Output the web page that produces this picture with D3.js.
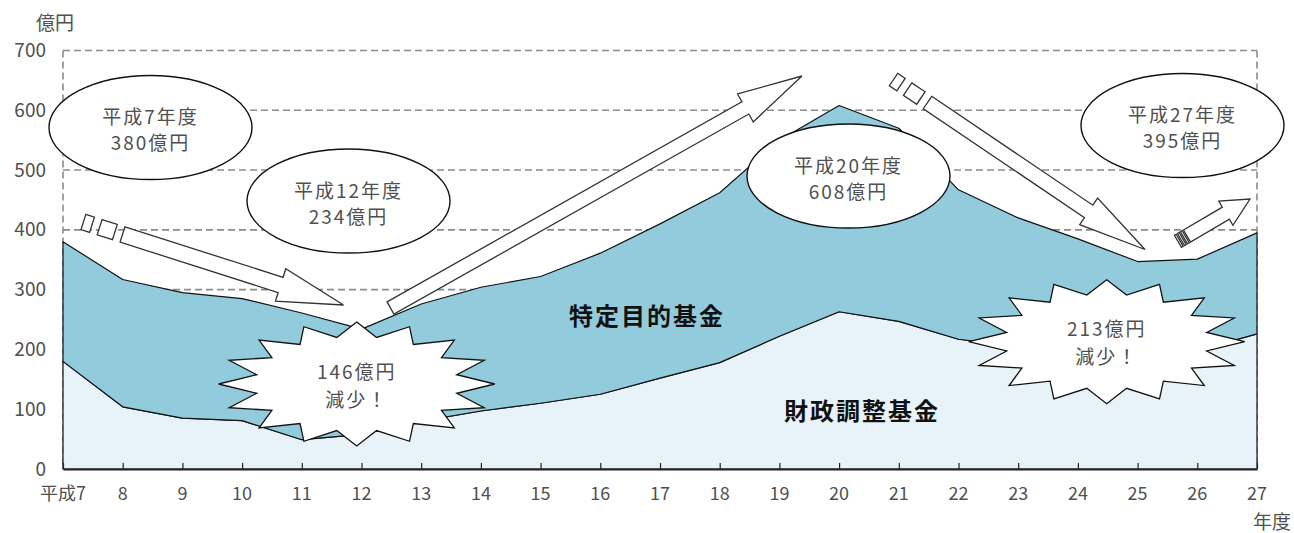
<!DOCTYPE html>
<html><head><meta charset="utf-8">
<script src="https://cdn.jsdelivr.net/npm/d3@7"></script>
<style>
html,body{margin:0;padding:0;background:#fff;}
svg{display:block;}
text{font-family:"Noto Sans CJK JP","Noto Sans",sans-serif;}
</style></head>
<body>
<svg id="chart" width="1294" height="533"></svg>
<script>
// ---- data ----
const years = [7,8,9,10,11,12,13,14,15,16,17,18,19,20,21,22,23,24,25,26,27];
const xTickLabels = ["平成7","8","9","10","11","12","13","14","15","16","17","18","19","20","21","22","23","24","25","26","27"];
const yTicks = [0,100,200,300,400,500,600,700];
const seriesNames = ["財政調整基金","特定目的基金"];
// 財政調整基金 (億円)
const zaiseiChousei = [180,104,85,81,49,58,80,97,110,125,152,178,222,263,247,217,205,195,188,198,226];
// 特定目的基金 (億円)
const tokuteiMokuteki = [200,213,210,204,212,176,196,207,212,236,258,284,328,345,323,250,215,190,159,153,169];

const svg = d3.select("#chart");
const x = d3.scaleLinear().domain([7,27]).range([63,1257]);
const y = d3.scaleLinear().domain([0,700]).range([469,50.5]);

const table = years.map((yr,i)=>({year:yr, z:zaiseiChousei[i], t:tokuteiMokuteki[i]}));
const stacked = d3.stack().keys(["z","t"])(table);

// grid lines (dashed)
const gridColor = "#8c8c8c";
svg.append("g").selectAll("line").data(yTicks.filter(d=>d>0)).join("line")
  .attr("x1", x(7)).attr("x2", x(27))
  .attr("y1", d=>y(d)).attr("y2", d=>y(d))
  .attr("stroke", gridColor).attr("stroke-width",1.6).attr("stroke-dasharray","7,4");
[7,27].forEach(v=>{
  svg.append("line").attr("x1",x(v)).attr("x2",x(v)).attr("y1",y(700)).attr("y2",y(0))
    .attr("stroke",gridColor).attr("stroke-width",1.6).attr("stroke-dasharray","7,4");
});

// areas
const colors = ["#e7f3f8","#92cbdc"];
const area = d3.area().x(d=>x(d.data.year)).y0(d=>y(d[0])).y1(d=>y(d[1]));
svg.append("g").selectAll("path").data(stacked).join("path")
  .attr("d", area)
  .attr("fill",(d,i)=>colors[i])
  .attr("stroke","#111").attr("stroke-width",1.2).attr("stroke-linejoin","round");

// x axis baseline + ticks (inward)
const xAxis = d3.axisBottom(x).tickValues(years).tickSizeInner(-6).tickSizeOuter(0).tickFormat("");
const gx = svg.append("g").attr("transform",`translate(0,${y(0)})`).call(xAxis);
gx.select(".domain").attr("stroke","#222").attr("stroke-width",2);
gx.selectAll(".tick line").attr("stroke","#222").attr("stroke-width",1.2);

// x labels
svg.append("g").selectAll("text").data(years).join("text")
  .attr("x", d=>x(d)).attr("y", 500)
  .attr("text-anchor","middle")
  .attr("font-size",18).attr("fill","#505050")
  .text((d,i)=>xTickLabels[i]);
// y labels
svg.append("g").selectAll("text").data(yTicks).join("text")
  .attr("x", 46).attr("y", d=>y(d)+6.5)
  .attr("text-anchor","end")
  .attr("font-size",19).attr("fill","#505050")
  .text(d=>d);
svg.append("text").attr("x",36).attr("y",30).attr("font-size",19).attr("fill","#505050").text("億円");
svg.append("text").attr("x",1291).attr("y",529).attr("text-anchor","end").attr("font-size",19).attr("fill","#505050").text("年度");

// ---- annotations ----
const ann = svg.append("g");
function frame(tail, tip){
  const dx = tip[0]-tail[0], dy = tip[1]-tail[1];
  const L = Math.hypot(dx,dy);
  const u = [dx/L, dy/L], p = [-u[1], u[0]];
  return {L, pt:(a,b)=>[tail[0]+u[0]*a+p[0]*b, tail[1]+u[1]*a+p[1]*b]};
}
function arrowPath(tail, tip, shaftW, headW, headL){
  const {L,pt} = frame(tail,tip);
  const s = shaftW/2, h = headW/2, b = L-headL;
  return [pt(0,-s),pt(b,-s),pt(b,-h),pt(L,0),pt(b,h),pt(b,s),pt(0,s)];
}
function stripe(tail, tip, shaftW, a0, a1){
  const {pt} = frame(tail,tip);
  const s = shaftW/2;
  return [pt(a0,-s),pt(a1,-s),pt(a1,s),pt(a0,s)];
}
function drawPoly(pts){
  ann.append("polygon").attr("points", pts.map(q=>q.join(",")).join(" "))
    .attr("fill","#fff").attr("stroke","#333").attr("stroke-width",1.3).attr("stroke-linejoin","miter");
}
function drawArrow(tail, tip, sw, hw, hl, stripes){
  drawPoly(arrowPath(tail,tip,sw,hw,hl));
  (stripes||[]).forEach(s=>drawPoly(stripe(tail,tip,sw,s[0],s[1])));
}
drawArrow([122.5,234.5],[343.5,305],16,34,66,[[-24,-8],[-41,-32]]);
drawArrow([390.5,308],[802,76],14,32,65,[]);
drawArrow([927.5,102.5],[1145,249.5],15,32,68,[[-24,-8],[-41,-32]]);
drawArrow([1187,236],[1250,199],14,28,28,[[-3.5,-1.5],[-7,-5],[-10.5,-8.5]]);

// ellipses
function ellipse(cx,cy,l1,l2){
  ann.append("ellipse").attr("cx",cx).attr("cy",cy).attr("rx",101.5).attr("ry",52)
    .attr("fill","#fff").attr("stroke","#111").attr("stroke-width",1.4);
  ann.append("text").attr("x",cx).attr("y",cy-12).attr("text-anchor","middle").attr("dominant-baseline","central")
    .attr("font-size",19).attr("letter-spacing",2).attr("fill","#505050").text(l1);
  ann.append("text").attr("x",cx).attr("y",cy+14).attr("text-anchor","middle").attr("dominant-baseline","central")
    .attr("font-size",19).attr("letter-spacing",2).attr("fill","#505050").text(l2);
}
ellipse(150.5,127.5,"平成7年度","380億円");
ellipse(348.5,201,"平成12年度","234億円");
ellipse(848.5,176,"平成20年度","608億円");
ellipse(1182.5,125.5,"平成27年度","395億円");

// starbursts
function burst(cx,cy,l1,l2){
  const n=16, pts=[];
  for(let k=0;k<2*n;k++){
    const ang = -Math.PI/2 + k*Math.PI/n;
    const outer = k%2===0;
    const rx = outer?138:102, ry = outer?62:47.5;
    pts.push([cx+rx*Math.cos(ang), cy+ry*Math.sin(ang)]);
  }
  ann.append("polygon").attr("points",pts.map(q=>q.join(",")).join(" "))
    .attr("fill","#fff").attr("stroke","#111").attr("stroke-width",1.3);
  ann.append("text").attr("x",cx).attr("y",cy-14).attr("text-anchor","middle").attr("dominant-baseline","central")
    .attr("font-size",19).attr("letter-spacing",2).attr("fill","#505050").text(l1);
  ann.append("text").attr("x",cx).attr("y",cy+14).attr("text-anchor","middle").attr("dominant-baseline","central")
    .attr("font-size",19).attr("letter-spacing",2).attr("fill","#505050").text(l2);
}
burst(356.7,384,"146億円","減少！");
burst(1106.7,341.7,"213億円","減少！");

// series labels
svg.append("text").attr("x",647).attr("y",314).attr("text-anchor","middle").attr("dominant-baseline","central")
  .attr("font-size",24).attr("font-weight","bold").attr("letter-spacing",2).attr("fill","#111").text(seriesNames[1]);
svg.append("text").attr("x",862).attr("y",409).attr("text-anchor","middle").attr("dominant-baseline","central")
  .attr("font-size",24).attr("font-weight","bold").attr("letter-spacing",2).attr("fill","#111").text(seriesNames[0]);
</script>
</body></html>
